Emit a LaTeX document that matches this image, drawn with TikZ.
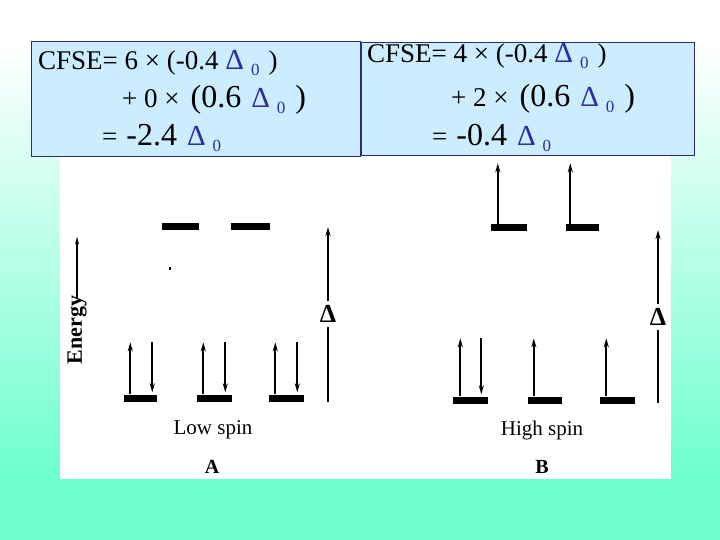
\documentclass[tikz,border=0pt]{standalone}
\usepackage{fontspec}
\setmainfont{Liberation Serif}
\usepackage{xcolor}
\usetikzlibrary{arrows.meta}

\definecolor{slidebg}{RGB}{110,255,205}
\definecolor{boxfill}{RGB}{204,236,255}
\definecolor{boxline}{RGB}{45,45,110}
\definecolor{deltablue}{RGB}{45,45,160}

\pgfdeclareverticalshading{slideshade}{100bp}{color(0bp)=(slidebg); color(31bp)=(slidebg); color(71bp)=(white); color(100bp)=(white)}

\newcommand{\dzero}{{\color{deltablue}{\fontsize{29}{31}\selectfont Δ}\hspace{7pt}\raisebox{-6pt}{\fontsize{17}{17}\selectfont 0}}}
\newcommand{\cfsebig}[1]{{\fontsize{32}{34}\selectfont #1}}

\tikzset{
	cfse/.style={anchor=base west,inner sep=0pt,font=\fontsize{27}{30}\selectfont},
	cfsebox/.style={draw=boxline,fill=boxfill,line width=1pt},
	levelbar/.style={fill=black,inner sep=0pt,minimum width=35pt,minimum height=7pt},
	spin/.style={line width=1.7pt,-{Stealth[length=9pt,width=5pt]}},
	spinlabel/.style={font=\fontsize{21}{24}\selectfont,inner sep=0pt},
	gaplabel/.style={font=\fontsize{26}{28}\selectfont\bfseries,inner sep=0pt},
}

\begin{document}
\begin{tikzpicture}[x=1pt,y=-1pt]
		\useasboundingbox (0,0) rectangle (720,540);
		\shade[shading=slideshade] (0,0) rectangle (720,540);
		\fill[white] (60,150) rectangle (671,479);
		% energy axis
		\node[rotate=90,inner sep=0pt,font=\fontsize{22}{24}\selectfont\bfseries] (energy) at (77,330) {Energy};
		\draw[line width=1.2pt,-{Stealth[length=8pt,width=4pt]}] ([yshift=-3pt]energy.east) -- ++(0,-62);
		% low spin, A
		\node[levelbar,minimum width=37pt] (egA1) at (180,227) {};
		\node[levelbar,minimum width=39pt] (egA2) at (250,227) {};
		\fill (169,267) rectangle (171,270);
		\node[levelbar,minimum width=33pt] (tA1) at (140,398) {};
		\node[levelbar] (tA2) at (214,398) {};
		\node[levelbar] (tA3) at (286,398) {};
		\foreach \lv in {tA1,tA2,tA3} {
			\draw[spin] ([xshift=7pt]\lv.north west) -- ++(0,-52);
			\draw[spin] ([xshift=29pt,yshift=52pt]\lv.north west) -- ([xshift=29pt,yshift=2pt]\lv.north west);
		}
		\node[gaplabel] (dA) at (328,314) {Δ};
		\coordinate (gapAtop) at (328,227);
		\coordinate (gapAbot) at (328,402);
		\draw[line width=1.7pt] (gapAbot) -- ([yshift=-4pt]dA.south);
		\draw[spin] ([yshift=4pt]dA.north) -- (gapAtop);
		\node[spinlabel] (lowspin) at (213,430) {Low spin};
		\node[spinlabel,font=\fontsize{20}{22}\selectfont\bfseries] (labA) at (212,467) {A};
		% high spin, B
		\node[levelbar,minimum width=36pt] (egB1) at (509,228) {};
		\node[levelbar,minimum width=33pt] (egB2) at (582,228) {};
		\draw[spin] ([xshift=7pt]egB1.north west) -- ++(0,-61);
		\draw[spin] ([xshift=5pt]egB2.north west) -- ++(0,-61);
		\node[levelbar] (tB1) at (470,400) {};
		\node[levelbar,minimum width=34pt] (tB2) at (545,400) {};
		\node[levelbar] (tB3) at (617,400) {};
		\draw[spin] ([xshift=8pt]tB1.north west) -- ++(0,-58);
		\draw[spin] ([xshift=29pt,yshift=58pt]tB1.north west) -- ([xshift=29pt,yshift=2pt]tB1.north west);
		\draw[spin] ([xshift=6pt]tB2.north west) -- ++(0,-58);
		\draw[spin] ([xshift=7pt]tB3.north west) -- ++(0,-58);
		\node[gaplabel] (dB) at (658,317) {Δ};
		\coordinate (gapBtop) at (658,230);
		\coordinate (gapBbot) at (658,403);
		\draw[line width=1.7pt] (gapBbot) -- ([yshift=-4pt]dB.south);
		\draw[spin] ([yshift=4pt]dB.north) -- (gapBtop);
		\node[spinlabel] (highspin) at (542,430) {High spin};
		\node[spinlabel,font=\fontsize{20}{22}\selectfont\bfseries] (labB) at (542,467) {B};
		% CFSE boxes
		\draw[cfsebox] (31,42) rectangle (360,157);
		\draw[cfsebox] (361,43) rectangle (694,156);
		\node[cfse] (cA1) at (38,70) {CFSE= 6 × (-0.4 \dzero\hspace{9pt})};
		\node[cfse] (cA2) at (122,108) {+ 0 ×\hspace{11pt}\cfsebig{(0.6}\hspace{10pt}\dzero\hspace{10pt}\cfsebig{)}};
		\node[cfse] (cA3) at (102,146) {=\hspace{9pt}\cfsebig{-2.4}\hspace{10pt}\dzero};
		\node[cfse] (cB1) at (367,63) {CFSE= 4 × (-0.4 \dzero\hspace{9pt})};
		\node[cfse] (cB2) at (451,107) {+ 2 ×\hspace{11pt}\cfsebig{(0.6}\hspace{10pt}\dzero\hspace{10pt}\cfsebig{)}};
		\node[cfse] (cB3) at (432,146) {=\hspace{9pt}\cfsebig{-0.4}\hspace{10pt}\dzero};
	\end{tikzpicture}
\end{document}
